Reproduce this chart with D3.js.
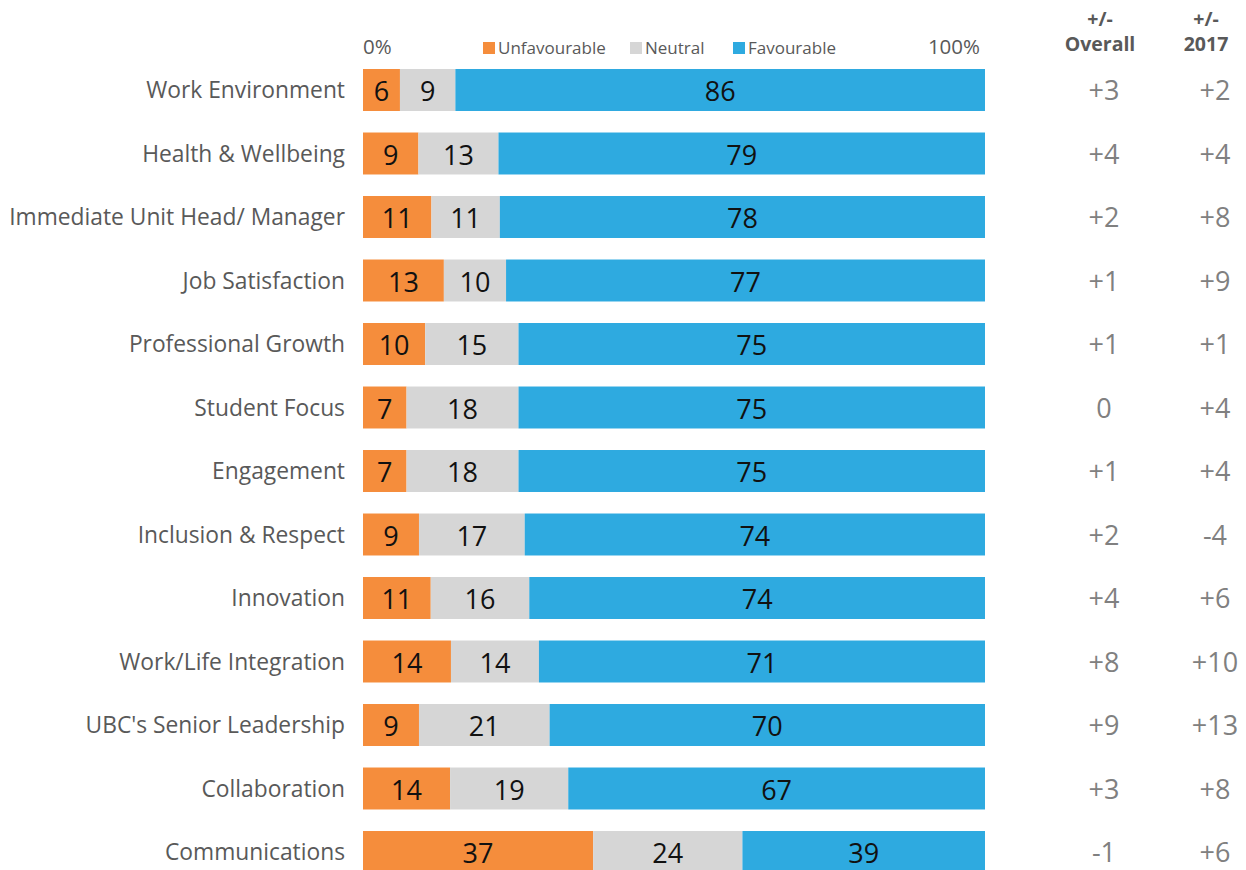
<!DOCTYPE html>
<html>
<head>
<meta charset="utf-8">
<script src="https://cdn.jsdelivr.net/npm/d3@7"></script>
<style>
	body { margin: 0; background: #fff; }
	svg { font-family: "Open Sans", "Noto Sans", sans-serif; display: block; overflow: hidden; }
</style>
</head>
<body>
<div id="chart"></div>
<script>
	// survey results, one entry per dimension
	var categories = ["Work Environment", "Health & Wellbeing", "Immediate Unit Head/ Manager",
		"Job Satisfaction", "Professional Growth", "Student Focus", "Engagement",
		"Inclusion & Respect", "Innovation", "Work/Life Integration",
		"UBC's Senior Leadership", "Collaboration", "Communications"];
	var unfavourable = [6, 9, 11, 13, 10, 7, 7, 9, 11, 14, 9, 14, 37];
	var neutral = [9, 13, 11, 10, 15, 18, 18, 17, 16, 14, 21, 19, 24];
	var favourable = [86, 79, 78, 77, 75, 75, 75, 74, 74, 71, 70, 67, 39];
	var diffOverall = ["+3", "+4", "+2", "+1", "+1", "0", "+1", "+2", "+4", "+8", "+9", "+3", "-1"];
	var diff2017 = ["+2", "+4", "+8", "+9", "+1", "+4", "+4", "-4", "+6", "+10", "+13", "+8", "+6"];
	var seriesNames = ["Unfavourable", "Neutral", "Favourable"];
	var colHeaders = [["+/-", "Overall"], ["+/-", "2017"]];

	var width = 1246, height = 870;

	var rows = categories.map(function (c, i) {
		return { name: c, Unfavourable: unfavourable[i], Neutral: neutral[i], Favourable: favourable[i] };
	});

	var color = d3.scaleOrdinal()
		.domain(seriesNames)
		.range(["#f58d3c", "#d6d6d6", "#2eaae0"]);

	var x = d3.scaleLinear()
		.domain([0, 1])
		.range([363, 985]);

	var y = d3.scaleBand()
		.domain(categories)
		.range([58.25, 883.75])
		.paddingInner(0.339)
		.paddingOuter(0.1695);

	// rows don't always add to 100 (rounding), so expand each to full width
	var stack = d3.stack()
		.keys(seriesNames)
		.offset(d3.stackOffsetExpand);
	var series = stack(rows);

	var svg = d3.select("#chart").append("svg")
		.attr("width", width)
		.attr("height", height);

	var layer = svg.selectAll("g.layer")
		.data(series)
		.enter().append("g")
		.attr("class", "layer")
		.attr("fill", function (d) { return color(d.key); });

	layer.selectAll("rect")
		.data(function (d) { return d; })
		.enter().append("rect")
		.attr("x", function (d) { return x(d[0]); })
		.attr("y", function (d) { return y(d.data.name); })
		.attr("width", function (d) { return x(d[1]) - x(d[0]); })
		.attr("height", y.bandwidth());

	// numbers in the segments
	layer.selectAll("text")
		.data(function (d) { return d.map(function (p) { p.key = d.key; return p; }); })
		.enter().append("text")
		.attr("x", function (d) { return (x(d[0]) + x(d[1])) / 2; })
		.attr("y", function (d) { return y(d.data.name) + y.bandwidth() / 2 + 11; })
		.attr("text-anchor", "middle")
		.attr("fill", "#111")
		.style("font-size", "27px")
		.text(function (d) { return d.data[d.key]; });

	// category labels
	svg.selectAll("text.cat")
		.data(categories)
		.enter().append("text")
		.attr("class", "cat")
		.attr("x", 345)
		.attr("y", function (d) { return y(d) + y.bandwidth() / 2 + 8; })
		.attr("text-anchor", "end")
		.attr("fill", "#595959")
		.style("font-size", "22.8px")
		.text(function (d) { return d; });

	// +/- columns
	var colX = [1104, 1215];
	[diffOverall, diff2017].forEach(function (vals, k) {
		svg.selectAll("text.col" + k)
			.data(vals)
			.enter().append("text")
			.attr("class", "col" + k)
			.attr("x", colX[k])
			.attr("y", function (d, i) { return y(categories[i]) + y.bandwidth() / 2 + 10; })
			.attr("text-anchor", "middle")
			.attr("fill", "#808080")
			.style("font-size", "27px")
			.text(function (d) { return d; });
	});

	var headX = [1100, 1206];
	colHeaders.forEach(function (lines, k) {
		svg.append("text")
			.attr("x", headX[k])
			.attr("y", 26)
			.attr("text-anchor", "middle")
			.attr("fill", "#595959")
			.style("font-size", "19.5px")
			.style("font-weight", "bold")
			.selectAll("tspan")
			.data(lines)
			.enter().append("tspan")
			.attr("x", headX[k])
			.attr("dy", function (d, i) { return i ? 25 : 0; })
			.text(function (d) { return d; });
	});

	// axis end labels
	svg.append("text")
		.attr("x", x(0))
		.attr("y", 54)
		.attr("fill", "#595959")
		.style("font-size", "20.5px")
		.text("0%");
	svg.append("text")
		.attr("x", x(1) - 5)
		.attr("y", 54)
		.attr("text-anchor", "end")
		.attr("fill", "#595959")
		.style("font-size", "20.5px")
		.text("100%");

	// legend
	var legendX = [483, 630, 733];
	var legend = svg.selectAll("g.legend")
		.data(seriesNames)
		.enter().append("g")
		.attr("class", "legend")
		.attr("transform", function (d, i) { return "translate(" + legendX[i] + ",42)"; });
	legend.append("rect")
		.attr("width", 12)
		.attr("height", 12)
		.attr("fill", function (d) { return color(d); });
	legend.append("text")
		.attr("x", 15)
		.attr("y", 11.5)
		.attr("fill", "#595959")
		.style("font-size", "17px")
		.text(function (d) { return d; });
</script>
</body>
</html>
